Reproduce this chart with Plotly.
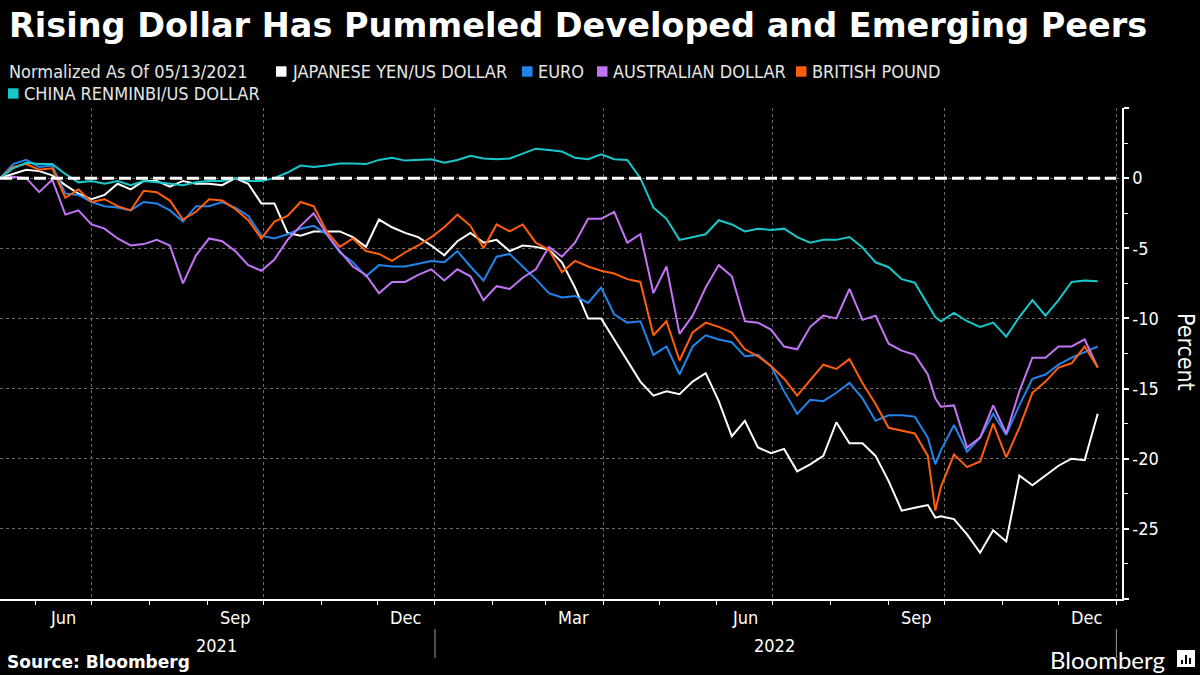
import pandas as pd
import plotly.graph_objects as go

# ---------------- data ----------------
weekly = [d.strftime("%Y-%m-%d") for d in pd.date_range("2021-05-13", periods=85, freq="7D")]
dates = weekly[:72] + ["2022-09-26"] + weekly[72:]

jpy = [0, 0.3, 0.6, 0.5, 0.2, -0.5, -1.1, -1.5, -1.2, -0.4,
       -0.8, -0.2, -0.2, -0.6, -0.2, -0.4, -0.4, -0.5, 0.0, -0.4,
       -1.8, -1.8, -3.9, -4.1, -3.8, -3.8, -3.8, -4.2, -4.9, -2.95,
       -3.5, -3.9, -4.2, -4.8, -5.5, -4.5, -3.9, -4.6, -4.4, -5.2,
       -4.8, -4.9, -5.1, -6.0, -7.8, -10.0, -10.0, -11.5, -13.0, -14.5,
       -15.5, -15.2, -15.4, -14.5, -13.9, -15.9, -18.4, -17.3, -19.2, -19.6,
       -19.3, -20.9, -20.4, -19.8, -17.4, -18.9, -18.9, -19.8, -21.6, -23.7,
       -23.5, -23.3, -24.2, -24.1, -24.3, -25.4, -26.7, -25.1, -25.9, -21.2,
       -21.9, -21.2, -20.5, -20.0, -20.1, -16.8]

eur = [0, 1.0, 1.3, 0.8, 0.9, -1.1, -1.2, -1.7, -2.0, -2.1,
       -2.3, -1.7, -1.8, -2.3, -3.1, -2.0, -2.0, -1.7, -2.1, -2.7,
       -4.1, -4.3, -4.0, -3.6, -3.4, -4.0, -5.3, -6.0, -7.0, -6.2,
       -6.3, -6.3, -6.1, -5.9, -6.0, -5.2, -6.3, -7.3, -5.6, -5.4,
       -6.3, -7.2, -8.2, -8.5, -8.4, -8.9, -7.8, -9.7, -10.3, -10.2,
       -12.6, -12.0, -14.0, -12.0, -11.2, -11.5, -11.7, -12.7, -12.6, -13.4,
       -15.2, -16.8, -15.8, -15.9, -15.3, -14.6, -15.7, -17.3, -16.9, -16.9,
       -17.0, -18.5, -20.4, -19.4, -17.6, -19.5, -18.5, -16.8, -18.3, -16.2,
       -14.3, -14.0, -13.3, -12.8, -12.4, -12.0]

aud = [0, 0.1, 0.0, -1.0, -0.1, -2.6, -2.3, -3.3, -3.6, -4.3,
       -4.8, -4.7, -4.4, -4.8, -7.5, -5.5, -4.3, -4.5, -5.2, -6.2,
       -6.6, -5.8, -4.4, -3.4, -2.5, -4.0, -5.2, -6.3, -6.9, -8.2,
       -7.4, -7.4, -6.9, -6.5, -7.3, -6.5, -7.0, -8.7, -7.7, -7.9,
       -7.1, -6.5, -4.9, -5.6, -4.6, -2.9, -2.9, -2.4, -4.6, -4.0,
       -8.2, -6.3, -11.1, -9.8, -7.8, -6.2, -7.0, -10.2, -10.3, -10.8,
       -12.0, -12.2, -10.6, -9.8, -10.0, -7.9, -10.1, -9.8, -11.8, -12.3,
       -12.6, -14.0, -15.7, -16.3, -16.2, -19.2, -18.5, -16.2, -18.2, -15.2,
       -12.8, -12.8, -12.0, -12.0, -11.5, -13.5]

gbp = [0, 0.8, 1.0, 0.6, 0.7, -1.4, -0.8, -1.7, -1.5, -2.0,
       -2.3, -0.9, -1.0, -1.6, -2.95, -2.4, -1.5, -1.6, -2.2, -3.0,
       -4.3, -3.1, -2.7, -1.7, -2.0, -3.8, -4.9, -4.3, -5.2, -5.4,
       -5.9, -5.3, -4.8, -4.2, -3.5, -2.6, -3.4, -5.0, -3.3, -3.8,
       -3.3, -4.6, -5.1, -6.7, -5.9, -6.3, -6.6, -6.8, -7.2, -7.4,
       -11.2, -10.2, -13.0, -11.0, -10.3, -10.6, -11.0, -12.2, -12.7, -13.4,
       -14.3, -15.5, -14.4, -13.3, -13.6, -12.9, -14.6, -16.1, -17.8, -18.0,
       -18.2, -19.8, -23.7, -22.0, -19.7, -20.6, -20.2, -17.5, -19.9, -17.8,
       -15.3, -14.5, -13.5, -13.2, -12.0, -13.5]

cny = [0, 0.7, 1.1, 1.0, 1.0, 0.3, -0.3, -0.2, -0.4, -0.2,
       -0.5, -0.2, -0.3, -0.4, -0.5, -0.3, -0.2, -0.2, 0.0, -0.2,
       -0.2, 0.0, 0.4, 0.9, 0.8, 0.9, 1.05, 1.05, 1.0, 1.3,
       1.45, 1.25, 1.3, 1.35, 1.1, 1.3, 1.6, 1.4, 1.35, 1.4,
       1.75, 2.1, 2.0, 1.9, 1.45, 1.35, 1.7, 1.35, 1.3, 0.0,
       -2.1, -2.9, -4.4, -4.2, -4.0, -3.0, -3.3, -3.8, -3.6, -3.7,
       -3.6, -4.2, -4.6, -4.4, -4.4, -4.2, -4.95, -6.0, -6.35, -7.2,
       -7.45, -9.0, -9.9, -10.2, -9.6, -10.2, -10.6, -10.3, -11.3, -9.9,
       -8.7, -9.8, -8.7, -7.4, -7.3, -7.35]

series_names = ["JAPANESE YEN/US DOLLAR", "EURO", "AUSTRALIAN DOLLAR",
                "BRITISH POUND", "CHINA RENMINBI/US DOLLAR"]
series_values = [jpy, eur, aud, gbp, cny]
series_colors = ["#ffffff", "#2184ea", "#c275f4", "#ff5e0c", "#16c8cc"]

y_tickvals = [5, 0, -5, -10, -15, -20, -25, -30]
y_ticktext = ["", "0", "-5", "-10", "-15", "-20", "-25", ""]

month_labels = ["Jun", "Sep", "Dec", "Mar", "Jun", "Sep", "Dec"]
month_label_dates = ["2021-06-16", "2021-09-16", "2021-12-16", "2022-03-16",
                     "2022-06-16", "2022-09-16", "2022-12-16"]
year_labels = ["2021", "2022"]
year_label_dates = ["2021-09-06", "2022-07-02"]
year_dividers = ["2022-01-01", "2023-01-01"]

for v in series_values:
    assert len(v) == len(dates), len(v)

# ---------------- layout helpers ----------------
W, H = 1200, 675
L, R, T, B = 0, 78, 108, 76
PW, PH = W - L - R, H - T - B


def xp(px):
    return (px - L) / PW


def yp(py):
    return (H - B - py) / PH


fig = go.Figure()
for name, vals, col in zip(series_names, series_values, series_colors):
    fig.add_trace(go.Scatter(x=dates, y=vals, mode="lines", name=name,
                             line=dict(color=col, width=2), showlegend=False))

GRID = "#6a6a6a"
TXT = "#ffffff"
FONT = "DejaVu Sans Condensed, Liberation Sans Narrow, Liberation Sans, sans-serif"
BOLD = "DejaVu Sans, Verdana, sans-serif"

fig.update_xaxes(
    type="date", range=["2021-05-13", "2023-01-04"],
    showgrid=True, gridcolor=GRID, griddash="dot", gridwidth=1,
    tick0="2021-07-01", dtick="M3", ticks="outside", ticklen=4,
    tickcolor=TXT, tickwidth=1, showticklabels=False,
    showline=True, linecolor=TXT, linewidth=1.5, zeroline=False,
    minor=dict(tick0="2021-06-01", dtick="M1", ticks="outside", ticklen=4,
               tickcolor=TXT, tickwidth=1, showgrid=False),
)
fig.update_yaxes(
    side="right", range=[-30, 5], tickmode="array",
    tickvals=y_tickvals, ticktext=y_ticktext,
    showgrid=True, gridcolor=GRID, griddash="dot", gridwidth=1,
    ticks="outside", ticklen=5, tickcolor=TXT, tickwidth=2,
    tickfont=dict(size=18, color=TXT, family=FONT),
    showline=True, linecolor=TXT, linewidth=1.5, zeroline=False,
    minor=dict(tickmode="linear", tick0=0, dtick=2.5, ticks="outside",
               ticklen=4, tickcolor=TXT, tickwidth=1, showgrid=False),
)

shapes = []
# zero reference line
shapes.append(dict(type="line", xref="paper", yref="y", x0=0, x1=xp(1116),
                   y0=0, y1=0, line=dict(color=TXT, width=3, dash="12px,5px"),
                   layer="above"))
# year dividers under the axis
for d in year_dividers:
    shapes.append(dict(type="line", xref="x", yref="paper", x0=d, x1=d,
                       y0=yp(629), y1=yp(658), line=dict(color="#9a9a9a", width=1)))

annotations = []
# title
annotations.append(dict(text="<b>Rising Dollar Has Pummeled Developed and Emerging Peers</b>",
                        xref="paper", yref="paper", x=xp(7), y=yp(25),
                        xanchor="left", yanchor="middle", showarrow=False,
                        font=dict(size=33.5, color=TXT, family=BOLD)))
# legend
LEG_FONT = dict(size=18, color="#e6e6e6", family=FONT)
annotations.append(dict(text="Normalized As Of 05/13/2021", xref="paper", yref="paper",
                        x=xp(7), y=yp(71.5), xanchor="left", yanchor="middle",
                        showarrow=False, font=LEG_FONT))
legend_pos = [(276, 71.5), (522, 71.5), (597, 71.5), (796, 71.5), (8, 93.5)]
for (lx, ly), name, col in zip(legend_pos, series_names, series_colors):
    shapes.append(dict(type="rect", xref="paper", yref="paper",
                       x0=xp(lx), x1=xp(lx + 10.5), y0=yp(ly - 5.2), y1=yp(ly + 5.2),
                       fillcolor=col, line=dict(width=0)))
    annotations.append(dict(text=name, xref="paper", yref="paper",
                            x=xp(lx + 13.5), y=yp(ly), xanchor="left", yanchor="middle",
                            showarrow=False, font=LEG_FONT))
# month / year labels
for lab, d in zip(month_labels, month_label_dates):
    annotations.append(dict(text=lab, xref="x", yref="paper", x=d, y=yp(617),
                            xanchor="center", yanchor="middle", showarrow=False,
                            font=dict(size=18, color=TXT, family=FONT)))
for lab, d in zip(year_labels, year_label_dates):
    annotations.append(dict(text=lab, xref="x", yref="paper", x=d, y=yp(645),
                            xanchor="center", yanchor="middle", showarrow=False,
                            font=dict(size=18, color=TXT, family=FONT)))
# axis title
annotations.append(dict(text="Percent", xref="paper", yref="paper", x=xp(1186), y=yp(352),
                        xanchor="center", yanchor="middle", textangle=90, showarrow=False,
                        font=dict(size=23, color=TXT, family=FONT)))
# footer
annotations.append(dict(text="<b>Source: Bloomberg</b>", xref="paper", yref="paper",
                        x=xp(5), y=yp(662), xanchor="left", yanchor="middle",
                        showarrow=False,
                        font=dict(size=17, color=TXT, family=BOLD)))
annotations.append(dict(text="Bloomberg", xref="paper", yref="paper",
                        x=xp(1167), y=yp(659), xanchor="right", yanchor="middle",
                        showarrow=False,
                        font=dict(size=24, color=TXT, family="Lato, Open Sans, sans-serif")))
# small logo mark
shapes.append(dict(type="rect", xref="paper", yref="paper", x0=xp(1177), x1=xp(1195),
                   y0=yp(667), y1=yp(650), fillcolor=TXT, line=dict(width=0)))
for bx, btop in [(1181, 660), (1185, 655), (1189, 658)]:
    shapes.append(dict(type="rect", xref="paper", yref="paper", x0=xp(bx), x1=xp(bx + 2),
                       y0=yp(664), y1=yp(btop), fillcolor="#000000", line=dict(width=0)))

fig.update_layout(
    width=W, height=H, autosize=False,
    margin=dict(l=L, r=R, t=T, b=B, pad=0),
    paper_bgcolor="#000000", plot_bgcolor="#000000",
    shapes=shapes, annotations=annotations, showlegend=False,
    font=dict(family=FONT, color=TXT),
)

fig.write_html(
    "out.html",
    config={"displayModeBar": False},
    post_script="document.body.style.margin='0px';document.body.style.padding='0px';"
                "document.body.style.background='#000000';document.body.style.overflow='hidden';",
)
